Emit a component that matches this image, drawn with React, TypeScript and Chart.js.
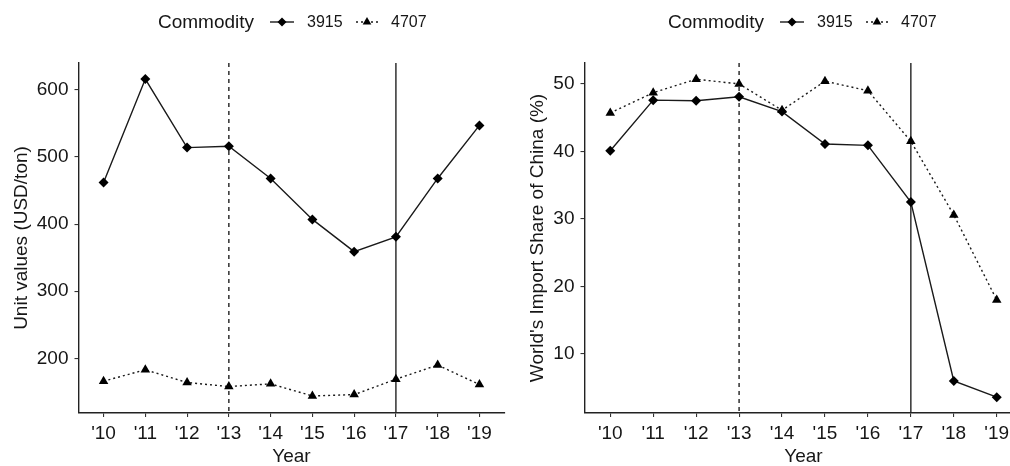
import React, { useEffect, useRef } from "react";
import { Chart, registerables } from "chart.js";

Chart.register(...registerables);

// ---- Data ----
const years = ["'10", "'11", "'12", "'13", "'14", "'15", "'16", "'17", "'18", "'19"];
const unitValues3915 = [462, 616, 514, 516, 468, 407, 359, 381, 468, 547];
const unitValues4707 = [166, 183, 164, 158, 162, 144, 146, 169, 190, 161];
const importShare3915 = [40.1, 47.6, 47.5, 48.1, 45.9, 41.1, 40.9, 32.5, 6.0, 3.6];
const importShare4707 = [45.7, 48.7, 50.7, 50.0, 46.1, 50.4, 49.0, 41.5, 30.6, 18.0];
const unitTicks = [200, 300, 400, 500, 600];
const shareTicks = [10, 20, 30, 40, 50];
const seriesNames = ["3915", "4707"];
const legendTitle = "Commodity";
const xTitle = "Year";
const unitTitle = "Unit values (USD/ton)";
const shareTitle = "World's Import Share of China (%)";
const dashedYearIndex = 3; // '13
const solidYearIndex = 7; // '17

const FONT = "'Liberation Sans', Arial, Helvetica, sans-serif";
const TEXT = "#161616";
const LINE = "#1a1a1a";

function drawDiamond(ctx: CanvasRenderingContext2D, x: number, y: number, r: number) {
  ctx.beginPath();
  ctx.moveTo(x, y - r);
  ctx.lineTo(x + r, y);
  ctx.lineTo(x, y + r);
  ctx.lineTo(x - r, y);
  ctx.closePath();
  ctx.fill();
}
function drawTriangle(ctx: CanvasRenderingContext2D, x: number, y: number, r: number) {
  ctx.beginPath();
  ctx.moveTo(x, y - r);
  ctx.lineTo(x + r * 0.866, y + r * 0.5);
  ctx.lineTo(x - r * 0.866, y + r * 0.5);
  ctx.closePath();
  ctx.fill();
}

const overlayPlugin = {
  id: "overlay",
  beforeDatasetsDraw(chart: any) {
    const { ctx, chartArea, scales } = chart;
    const xs = scales.x;
    ctx.save();
    ctx.strokeStyle = "#222";
    ctx.lineWidth = 1.4;
    ctx.setLineDash([4, 4]);
    let px = xs.getPixelForValue(dashedYearIndex);
    ctx.beginPath();
    ctx.moveTo(px, chartArea.top);
    ctx.lineTo(px, chartArea.bottom);
    ctx.stroke();
    ctx.setLineDash([]);
    px = xs.getPixelForValue(solidYearIndex);
    ctx.beginPath();
    ctx.moveTo(px, chartArea.top);
    ctx.lineTo(px, chartArea.bottom);
    ctx.stroke();
    ctx.restore();
  },
  afterDraw(chart: any, _args: any, opts: any) {
    const { ctx } = chart;
    const x0 = opts.x0 ?? 158;
    const y = 22;
    ctx.save();
    ctx.fillStyle = TEXT;
    ctx.textBaseline = "middle";
    ctx.textAlign = "left";
    ctx.font = `19px ${FONT}`;
    ctx.fillText(legendTitle, x0, y + 1);
    ctx.font = `16px ${FONT}`;
    ctx.strokeStyle = LINE;
    ctx.lineWidth = 1.4;
    ctx.beginPath();
    ctx.moveTo(x0 + 112, y);
    ctx.lineTo(x0 + 136, y);
    ctx.stroke();
    ctx.fillStyle = "#000";
    drawDiamond(ctx, x0 + 124, y, 4.5);
    ctx.fillStyle = TEXT;
    ctx.fillText(seriesNames[0], x0 + 149, y + 1);
    ctx.setLineDash([2, 3]);
    ctx.beginPath();
    ctx.moveTo(x0 + 198, y);
    ctx.lineTo(x0 + 221, y);
    ctx.stroke();
    ctx.setLineDash([]);
    ctx.fillStyle = "#000";
    drawTriangle(ctx, x0 + 209, y, 5);
    ctx.fillStyle = TEXT;
    ctx.fillText(seriesNames[1], x0 + 233, y + 1);
    ctx.restore();
  },
};

function makeConfig(
  vals1: number[],
  vals2: number[],
  yMin: number,
  yMax: number,
  yTicks: number[],
  yTitleText: string,
  yAxisWidth: number,
  yTitleOffset: number,
  padRight: number,
  legendX0: number
): any {
  const font = { family: FONT, size: 19 };
  return {
    type: "line",
    data: {
      datasets: [
        {
          label: seriesNames[0],
          data: vals1.map((v, i) => ({ x: i, y: v })),
          borderColor: LINE,
          borderWidth: 1.4,
          pointStyle: "rectRot",
          pointRadius: 5,
          pointBackgroundColor: "#000",
          pointBorderColor: "#000",
          pointBorderWidth: 0,
          tension: 0,
        },
        {
          label: seriesNames[1],
          data: vals2.map((v, i) => ({ x: i, y: v })),
          borderColor: LINE,
          borderWidth: 1.4,
          borderDash: [2, 3],
          pointStyle: "triangle",
          pointRadius: 5.5,
          pointBackgroundColor: "#000",
          pointBorderColor: "#000",
          pointBorderWidth: 0,
          tension: 0,
        },
      ],
    },
    options: {
      animation: false,
      responsive: false,
      events: [],
      layout: { padding: { top: 63, right: padRight, left: 0, bottom: 0 } },
      plugins: {
        legend: { display: false },
        tooltip: { enabled: false },
        overlay: { x0: legendX0 },
      },
      scales: {
        x: {
          type: "linear",
          min: -0.6,
          max: 9.6,
          afterBuildTicks: (s: any) => {
            s.ticks = years.map((_, i) => ({ value: i }));
          },
          afterFit: (s: any) => {
            s.height = 53;
          },
          ticks: {
            callback: (v: any) => years[v],
            font,
            color: TEXT,
            padding: 5,
            autoSkip: false,
            maxRotation: 0,
          },
          grid: { drawOnChartArea: false, drawTicks: true, tickLength: 4, color: "#333", lineWidth: 1.1 },
          border: { display: true, color: "#222", width: 1.4 },
          title: {
            display: true,
            text: xTitle,
            font: { family: FONT, size: 19, lineHeight: 1 },
            color: TEXT,
            padding: 0,
          },
        },
        y: {
          type: "linear",
          min: yMin,
          max: yMax,
          afterBuildTicks: (s: any) => {
            s.ticks = yTicks.map((v) => ({ value: v }));
          },
          afterFit: (s: any) => {
            s.width = yAxisWidth;
          },
          ticks: { font, color: TEXT, padding: 6 },
          grid: { drawOnChartArea: false, drawTicks: true, tickLength: 4, color: "#333", lineWidth: 1.1 },
          border: { display: true, color: "#222", width: 1.4 },
          title: {
            display: true,
            text: yTitleText,
            font: { family: FONT, size: 19, lineHeight: 1.2 },
            color: TEXT,
            padding: { top: yTitleOffset, bottom: 0 },
          },
        },
      },
    },
    plugins: [overlayPlugin],
  };
}

function Panel(props: { config: () => any; left: number; width: number }) {
  const ref = useRef<HTMLCanvasElement | null>(null);
  useEffect(() => {
    if (!ref.current) return;
    const chart = new Chart(ref.current, props.config());
    return () => chart.destroy();
  }, []);
  return (
    <canvas
      ref={ref}
      width={props.width}
      height={466}
      style={{ position: "absolute", left: props.left, top: 0, width: props.width, height: 466 }}
    />
  );
}

export default function App() {
  return (
    <div
      style={{
        position: "absolute",
        left: 0,
        top: 0,
        width: 1010,
        height: 466,
        overflow: "hidden",
        background: "#fff",
      }}
    >
      <Panel
        left={0}
        width={510}
        config={() =>
          makeConfig(unitValues3915, unitValues4707, 118.6, 640, unitTicks, unitTitle, 78.5, 10.5, 2.5, 158)
        }
      />
      <Panel
        left={505}
        width={530}
        config={() =>
          makeConfig(importShare3915, importShare4707, 1.26, 53.1, shareTicks, shareTitle, 79.5, 21, 12.5, 163)
        }
      />
    </div>
  );
}
